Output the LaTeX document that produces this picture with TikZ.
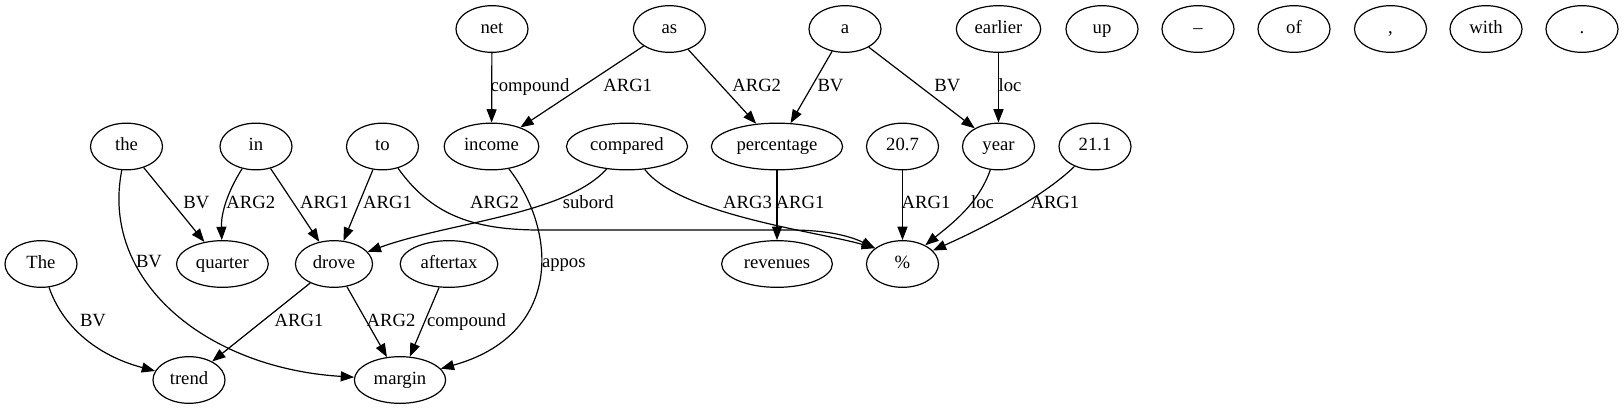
\documentclass[tikz,border=0pt]{standalone}
\usepackage{fontspec}
\setmainfont{Liberation Serif}
\usetikzlibrary{arrows.meta,shapes.geometric}

\begin{document}
\begin{tikzpicture}[
  x=0.75pt, y=0.75pt,
  word/.style={draw, ellipse, line width=0.9pt, minimum width=54pt, minimum height=35pt, inner xsep=4.5pt, inner ysep=0pt, font=\fontsize{14}{16}\selectfont, text height=9.5pt, text depth=3pt},
  lbl/.style={inner sep=0pt, font=\fontsize{14}{16}\selectfont, text height=9.5pt, text depth=3pt},
  arr/.style={-{Triangle[length=10pt, width=7.5pt]}, line width=0.9pt}
]
  \useasboundingbox (0,0) rectangle (1624,-411);
  % top row
  \node[word] (net) at (492,-29) {net};
  \node[word] (as) at (669.4,-29) {as};
  \node[word] (a) at (845,-29) {a};
  \node[word] (earlier) at (998.5,-29) {earlier};
  \node[word] (up) at (1102,-29) {up};
  \node[word] (dash) at (1198,-29) {–};
  \node[word] (of) at (1294,-29) {of};
  \node[word] (comma) at (1390.5,-29) {,};
  \node[word] (with) at (1486,-29) {with};
  \node[word] (dot) at (1582,-29) {.};
  % second row
  \node[word] (the) at (126.5,-146.5) {the};
  \node[word] (in) at (256,-146.5) {in};
  \node[word] (to) at (382.5,-146.5) {to};
  \node[word] (income) at (491.5,-146.5) {income};
  \node[word] (compared) at (627,-146.5) {compared};
  \node[word] (percentage) at (777,-146.5) {percentage};
  \node[word] (n207) at (902.5,-146.5) {20.7};
  \node[word] (year) at (998.5,-146.5) {year};
  \node[word] (n211) at (1095,-146.5) {21.1};
  % third row
  \node[word] (capthe) at (41,-264) {The};
  \node[word] (quarter) at (222.4,-264) {quarter};
  \node[word] (drove) at (334,-264) {drove};
  \node[word] (aftertax) at (449,-264) {aftertax};
  \node[word] (revenues) at (777,-264) {revenues};
  \node[word] (pct) at (902.5,-264) {\%};
  % bottom row
  \node[word] (trend) at (189,-380) {trend};
  \node[word] (margin) at (400,-380) {margin};

  % edges
  \draw[arr] (net) -- (income) node[lbl] at (530,-87.3) {compound};
  \draw[arr] (as) -- (income) node[lbl] at (627.7,-87.3) {ARG1};
  \draw[arr] (as) -- (percentage) node[lbl] at (756.7,-87.3) {ARG2};
  \draw[arr] (a) -- (percentage) node[lbl] at (830.5,-87.3) {BV};
  \draw[arr] (a) -- (year) node[lbl] at (947.3,-87.3) {BV};
  \draw[arr] (earlier) -- (year) node[lbl] at (1010,-87.3) {loc};

  \draw[arr] (the) -- (quarter) node[lbl] at (196.4,-204) {BV};
  \draw[arr] (in) .. controls (230,-188) and (221,-210) .. (quarter) node[lbl] at (250.8,-204) {ARG2};
  \draw[arr] (in) -- (drove) node[lbl] at (324.4,-204) {ARG1};
  \draw[arr] (to) -- (drove) node[lbl] at (387.6,-204) {ARG1};
  \draw[arr] (to) .. controls (430,-213) and (470,-230) .. (540,-230) -- (790,-230)
    .. controls (830,-230) and (852,-237) .. (pct.150) node[lbl] at (494.6,-204) {ARG2};
  \draw[arr] (compared) .. controls (565,-215) and (450,-222) .. (drove) node[lbl] at (588.3,-204) {subord};
  \draw[arr] (compared) .. controls (680,-215) and (820,-232) .. (pct.150) node[lbl] at (747.5,-204) {ARG3};
  \draw[arr] (percentage) -- (revenues) node[lbl] at (800,-204) {ARG1};
  \draw[arr] (n207) -- (pct) node[lbl] at (926,-204) {ARG1};
  \draw[arr] (year) .. controls (978,-205) and (950,-225) .. (pct) node[lbl] at (982.5,-204) {loc};
  \draw[arr] (n211) .. controls (1045,-195) and (990,-225) .. (pct) node[lbl] at (1054.9,-204) {ARG1};

  \draw[arr] (the) .. controls (100,-280) and (205,-368) .. (margin) node[lbl] at (149,-263.3) {BV};
  \draw[arr] (income) .. controls (558,-232) and (562,-335) .. (margin) node[lbl] at (563.8,-263.3) {appos};

  \draw[arr] (capthe) .. controls (62,-325) and (95,-355) .. (trend) node[lbl] at (93,-321.7) {BV};
  \draw[arr] (drove) -- (trend) node[lbl] at (299,-321.7) {ARG1};
  \draw[arr] (drove) -- (margin) node[lbl] at (391,-321.7) {ARG2};
  \draw[arr] (aftertax) -- (margin) node[lbl] at (466.5,-321.7) {compound};
\end{tikzpicture}
\end{document}
